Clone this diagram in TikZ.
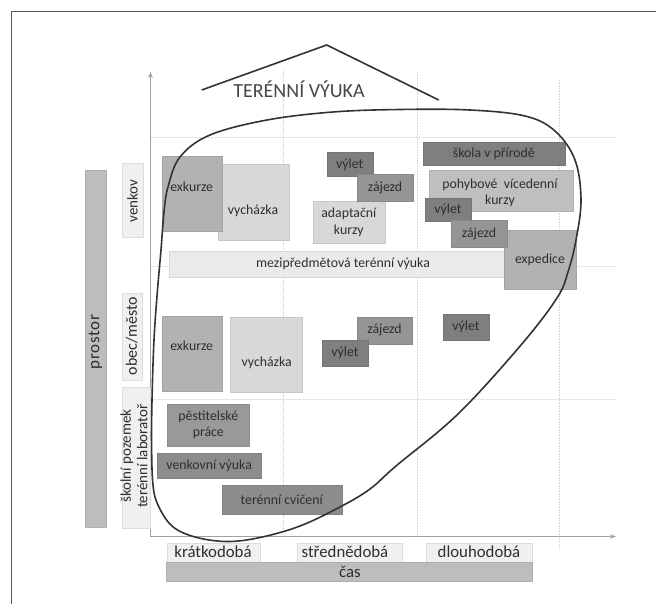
\documentclass[tikz,border=0pt]{standalone}
\usepackage{fontspec}
\setmainfont{Carlito}
\usetikzlibrary{arrows.meta}
\definecolor{txt}{HTML}{2E2E2E}
\definecolor{cDark}{HTML}{7F7F7F}
\definecolor{cZaj}{HTML}{959595}
\definecolor{cMed}{HTML}{B2B2B2}
\definecolor{cPoh}{HTML}{BFBFBF}
\definecolor{cLight}{HTML}{D8D8D8}
\definecolor{cPale}{HTML}{EAEAEA}
\definecolor{cLab}{HTML}{F0F0F0}
\definecolor{cBar}{HTML}{BDBDBD}
\definecolor{cPest}{HTML}{999999}
\definecolor{cVen}{HTML}{8C8C8C}
\definecolor{cGrid}{HTML}{D8D8D8}
\definecolor{cAxis}{HTML}{A0A0A0}
\definecolor{cLine}{HTML}{333333}
\newcommand\mybox[8][]{%
  \node[bx, fill=#7, draw=#7!92!black, minimum width={#5-#3}, minimum height={#6-#4}, #1]
    (#2) at ({(#3+#5)/2},{(#4+#6)/2}) {#8};}
\begin{document}
\begin{tikzpicture}[x=1pt,y=-1pt,
  bx/.style={inner sep=0pt, outer sep=0pt, align=center, text=txt, line width=0.4pt,
    font=\fontsize{13.8}{16.5}\selectfont},
  lab/.style={inner sep=0pt, outer sep=0pt, align=center, text=txt,
    font=\fontsize{16.8}{17}\selectfont},
  vlab/.style={inner sep=0pt, outer sep=0pt, align=center, text=txt, rotate=90,
    font=\fontsize{15}{16.5}\selectfont},
  grid/.style={cGrid, line width=0.6pt, densely dotted},
  axis/.style={cAxis, line width=1pt, -{Stealth[length=6pt,width=4.5pt]}},
  blob/.style={cLine, line width=1.6pt},
  roof/.style={cLine, line width=1.6pt}]
\useasboundingbox (0,0) rectangle (656,604);
\fill[white] (0,0) rectangle (656,604);
% frame
\draw[line width=1.3pt, black!65] (11.5,620) -- (11.5,11.5) -- (670,11.5);
% grid
\coordinate (g1a) at (150.5,137); \coordinate (g1b) at (616,137);
\coordinate (g2a) at (150.5,266); \coordinate (g2b) at (616,266);
\coordinate (g3a) at (150.5,399); \coordinate (g3b) at (616,399);
\coordinate (v1a) at (283,70); \coordinate (v1b) at (283,536);
\coordinate (v2a) at (417,72); \coordinate (v2b) at (417,536);
\coordinate (v3a) at (559,80); \coordinate (v3b) at (559,550);
\draw[grid] (g1a) -- (g1b); \draw[grid] (g2a) -- (g2b); \draw[grid] (g3a) -- (g3b);
\draw[grid] (v1a) -- (v1b); \draw[grid] (v2a) -- (v2b); \draw[grid] (v3a) -- (v3b);
% axes
\coordinate (O) at (150.5,536.5);
\coordinate (Ytop) at (150.5,72);
\coordinate (Xend) at (616,536.5);
\draw[axis] (O) -- (Ytop);
\draw[axis] (O) -- (Xend);
% roof and title
\coordinate (r1) at (201.7,90); \coordinate (r2) at (326.7,45); \coordinate (r3) at (438.7,100);
\draw[roof] (r1) -- (r2) -- (r3);
\node[inner sep=0pt, text=black!72, font=\fontsize{20}{22}\selectfont] (title) at (299,89) {TERÉNNÍ VÝUKA};
% side labels
\mybox{prostorbar}{85}{170}{105.7}{527}{cBar}{}
\node[vlab, font=\fontsize{17}{18}\selectfont\addfontfeature{LetterSpace=4}] (prostor) at (95.3,342) {prostor};
\mybox{venkovbox}{121.7}{163}{143.3}{237}{cLab}{}
\node[vlab] (venkov) at (132.5,201) {venkov};
\mybox{obecbox}{121.7}{293}{141.7}{380}{cLab}{}
\node[vlab, font=\fontsize{16}{17}\selectfont] (obec) at (131.7,336) {obec/město};
\mybox{skolbox}{121.7}{387}{150}{528}{cLab}{}
\node[vlab] (skol) at (134,456) {školní pozemek\\terénní laboratoř};
% time labels
\mybox{kratbox}{166.7}{542.7}{260}{561.7}{cLab}{}
\node[lab] (krat) at (213,552) {krátkodobá};
\mybox{strbox}{296.7}{542.7}{401.7}{561.7}{cLab}{}
\node[lab] (str) at (345,552) {střednědobá};
\mybox{dlbox}{426}{542.7}{531.7}{561.7}{cLab}{}
\node[lab] (dl) at (479,552) {dlouhodobá};
\mybox{casbar}{166}{561.7}{531.7}{581}{cBar}{}
\node[lab] (cas) at (350,571.5) {čas};
% venkov row
\mybox{mezi}{169}{251.7}{504}{276.7}{cPale}{}
\node[bx] (mezit) at (343,264) {mezipředmětová terénní výuka};
\mybox{expedice}{504}{230}{576}{289}{cMed}{expedice}
\mybox{vychV}{218}{164}{289}{240.7}{cLight}{}
\node[bx] (vychVt) at (253,211) {vycházka};
\mybox{exkV}{161.7}{156}{221.7}{231.7}{cMed}{}
\node[bx] (exkVt) at (191.7,186.7) {exkurze};
\mybox{adapt}{312.7}{201.7}{385}{243}{cLight}{adaptační\\kurzy}
\mybox{vyletV}{326.7}{152.7}{372.7}{176.7}{cDark}{výlet}
\mybox{zajV}{357}{174}{413}{201.7}{cZaj}{zájezd}
\mybox{skola}{422.7}{142}{565}{165}{cDark}{škola v přírodě}
\mybox{pohyb}{429}{170}{572.7}{211.7}{cPoh}{}
\node[bx] (pohybt) at (500,193) {pohybové\ \ vícedenní\\kurzy};
\mybox{vyletV2}{425}{198}{470.7}{221.7}{cDark}{výlet}
\mybox{zajV2}{451}{220}{507}{247}{cZaj}{zájezd}
% obec row
\mybox{exkO}{161.7}{315.7}{222.3}{391}{cMed}{}
\node[bx] (exkOt) at (191.7,345.7) {exkurze};
\mybox{vychO}{230}{316.7}{302.3}{392.3}{cLight}{}
\node[bx] (vychOt) at (266.7,363.3) {vycházka};
\mybox{zajO}{356.7}{316.7}{412.3}{344}{cZaj}{zájezd}
\mybox{vyletO}{321.7}{340}{368.3}{365.7}{cDark}{výlet}
\mybox{vyletO2}{442.7}{314}{489}{340}{cDark}{výlet}
% skolni row
\mybox{pest}{167.3}{404.3}{249.3}{445.7}{cPest}{pěstitelské\\práce}
\mybox{venk}{157.3}{453.3}{261}{478.3}{cVen}{venkovní výuka}
\mybox{tercv}{221.7}{485}{341.7}{514.3}{cVen}{terénní cvičení}
% enclosing curve
\draw[blob] plot[smooth cycle, tension=0.6] coordinates {
 (164,212) (168,187) (180,157) (210,135) (267,120) (333,112) (400,109.5)
 (470,110) (525,116) (555,131) (575,160) (581,200) (576,240) (568,272)
 (557,298) (521,345) (458,414) (396,466) (370,489) (340,507) (300,526)
 (260,537.5) (227,541.5) (195,537) (172,526) (158,505) (153,485)
 (151.6,447) (152,400) (154,340) (157.5,290) (161,250)};
\end{tikzpicture}
\end{document}
